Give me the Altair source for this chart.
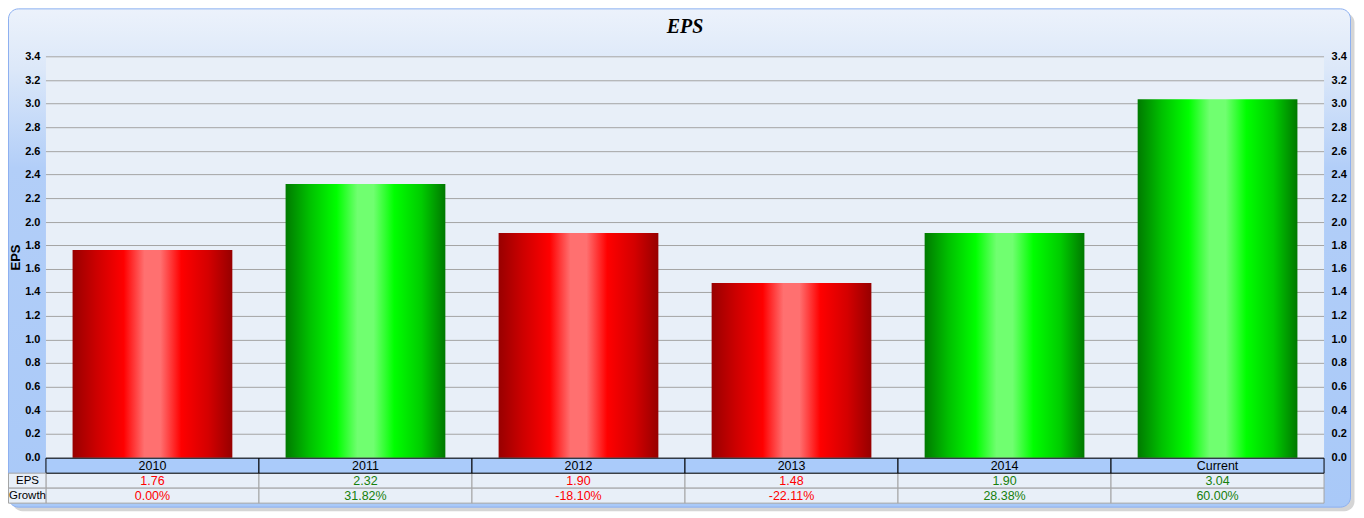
import altair as alt
import pandas as pd

# ---- data ----
categories = ["2010", "2011", "2012", "2013", "2014", "Current"]
eps = [1.76, 2.32, 1.90, 1.48, 1.90, 3.04]
growth = [0.00, 31.82, -18.10, -22.11, 28.38, 60.00]
y_ticks = [0.0, 0.2, 0.4, 0.6, 0.8, 1.0, 1.2, 1.4, 1.6, 1.8, 2.0, 2.2, 2.4,
           2.6, 2.8, 3.0, 3.2, 3.4]
row_labels = ["EPS", "Growth"]

# ---- layout ----
W, H = 1280, 402
PAD = {"left": 38, "top": 48, "right": 32, "bottom": 56}
FRAME_X0, FRAME_X1 = -37.5, 1306.5
FRAME_Y0, FRAME_Y1 = -47.5, 451.5
ROWS = {"head": (402.5, 417.5), "EPS": (417.5, 432.5), "Growth": (432.5, 447.5)}

df = pd.DataFrame({"cat": categories, "eps": eps, "growth": growth,
                   "idx": list(range(len(categories)))})
df["trend"] = ["up" if g > 0 else "down" for g in growth]
df["eps_txt"] = [f"{v:.2f}" for v in eps]
df["growth_txt"] = [f"{g:.2f}%" for g in growth]
ticks_df = pd.DataFrame({"v": y_ticks})
one = alt.Data(values=[{"a": 1}])

xs = alt.Scale(domain=[0, len(categories)], nice=False, zero=False)
ys = alt.Scale(domain=[0, 3.4], nice=False, round=True)
trend_color = alt.Scale(domain=["down", "up"], range=["#FF0000", "#16800C"])


def grad(stops, horizontal=True):
    return alt.LinearGradient(
        gradient="linear", x1=0, y1=0,
        x2=1 if horizontal else 0, y2=0 if horizontal else 1,
        stops=[alt.GradientStop(color=c, offset=o) for o, c in stops])


red_grad = grad([(0, "#980000"), (0.15, "#CC0000"), (0.32, "#FF0000"),
                 (0.45, "#FF7070"), (0.55, "#FF7070"), (0.68, "#FF0000"),
                 (0.85, "#D40000"), (1, "#960000")])
green_grad = grad([(0, "#007A00"), (0.15, "#00C000"), (0.32, "#00FF00"),
                   (0.45, "#70FF70"), (0.55, "#70FF70"), (0.68, "#00FF00"),
                   (0.85, "#00CC00"), (1, "#007800")])
frame_grad = grad([(0, "#ECF2FB"), (0.12, "#DCE8F9"), (0.32, "#B2CEF8"),
                   (1, "#A9C9F8")], horizontal=False)

# ---- frame ----
shadow = alt.Chart(one).mark_rect(fill="#888888", opacity=0.35, cornerRadius=10).encode(
    x=alt.value(FRAME_X0 + 4), x2=alt.value(FRAME_X1 + 4),
    y=alt.value(FRAME_Y0 + 4), y2=alt.value(FRAME_Y1 + 4))
frame = alt.Chart(one).mark_rect(fill=frame_grad, stroke="#8DB0F0", strokeWidth=1,
                                 cornerRadius=10).encode(
    x=alt.value(FRAME_X0), x2=alt.value(FRAME_X1),
    y=alt.value(FRAME_Y0), y2=alt.value(FRAME_Y1))
plot_bg = alt.Chart(one).mark_rect(fill="#E8EFF8").encode(
    x=alt.value(0), x2=alt.value(W), y=alt.value(0), y2=alt.value(H))

axis_common = dict(values=y_ticks, format=".1f", domain=False, ticks=False, grid=False,
                   labelFont="Liberation Sans", labelFontWeight="bold", labelFontSize=11,
                   labelColor="black", labelOverlap=False, zindex=1)

grid = alt.Chart(ticks_df).mark_rule(color="#A4A4A4", strokeWidth=1).encode(
    y=alt.Y("v:Q", scale=ys, axis=alt.Axis(
        orient="left", labelPadding=6, title="EPS", titleFont="Liberation Sans",
        titleFontSize=13, titleFontWeight="bold", titleColor="black",
        titleX=-30, titleY=H / 2, titleAngle=270, titleAlign="center",
        titleBaseline="middle", **axis_common)),
    x=alt.value(0), x2=alt.value(W), yOffset=alt.value(0.5))
grid_right = alt.Chart(ticks_df).mark_rule(opacity=0).encode(
    y=alt.Y("v:Q", scale=ys, axis=alt.Axis(orient="right", labelPadding=7, title=None,
                                           **axis_common)),
    x=alt.value(0), x2=alt.value(W))


def bars(trend, fill):
    return alt.Chart(df).transform_filter(alt.datum.trend == trend).transform_calculate(
        x0="datum.idx + 0.125", x1="datum.idx + 0.875").mark_rect(fill=fill).encode(
        x=alt.X("x0:Q", scale=xs, axis=None), x2="x1:Q",
        y=alt.Y("eps:Q", scale=ys, axis=None), y2=alt.datum(0))


# ---- table ----
def cells(row, fill, stroke):
    y0, y1 = ROWS[row]
    return alt.Chart(df).transform_calculate(x1="datum.idx + 1").mark_rect(
        fill=fill, stroke=stroke, strokeWidth=1).encode(
        x=alt.X("idx:Q", scale=xs, axis=None), x2="x1:Q",
        y=alt.value(y0), y2=alt.value(y1))


def cell_text(row, field, colored=True):
    y0, y1 = ROWS[row]
    enc = dict(x=alt.X("xc:Q", scale=xs, axis=None), y=alt.value((y0 + y1) / 2 + 0.5),
               text=alt.Text(f"{field}:N"))
    if colored:
        enc["color"] = alt.Color("trend:N", scale=trend_color, legend=None)
    return alt.Chart(df).transform_calculate(xc="datum.idx + 0.5").mark_text(
        font="Liberation Sans", fontSize=12.5, baseline="middle", align="center",
        color="black").encode(**enc)


label_layers = []
for r in row_labels:
    y0, y1 = ROWS[r]
    ldf = alt.Data(values=[{"label": r}])
    label_layers.append(alt.Chart(ldf).mark_rect(
        fill="#E8EFF8", stroke="#A4A4A4", strokeWidth=1).encode(
        x=alt.value(-37.5), x2=alt.value(0), y=alt.value(y0), y2=alt.value(y1)))
    label_layers.append(alt.Chart(ldf).mark_text(
        font="Liberation Sans", fontSize=11.5, baseline="middle", align="center",
        color="black").encode(
        x=alt.value(-18.5), y=alt.value((y0 + y1) / 2 + 0.5), text="label:N"))

title = alt.Chart(alt.Data(values=[{"t": "EPS"}])).mark_text(
    font="Liberation Serif", fontSize=20, fontStyle="italic", fontWeight="bold",
    color="black", align="center", baseline="alphabetic").encode(
    x=alt.value(W / 2), y=alt.value(-23), text="t:N")

chart = alt.layer(
    shadow, frame, plot_bg, grid, grid_right,
    bars("down", red_grad), bars("up", green_grad),
    cells("EPS", "#E8EFF8", "#A4A4A4"), cells("Growth", "#E8EFF8", "#A4A4A4"),
    cells("head", "#AACBFA", "#000000"),
    cell_text("head", "cat", colored=False),
    cell_text("EPS", "eps_txt"), cell_text("Growth", "growth_txt"),
    *label_layers, title,
).resolve_axis(y="independent").properties(
    width=W, height=H, padding=PAD,
    autosize=alt.AutoSizeParams(type="none"),
    background="white",
).configure_view(stroke=None)

chart.save("out.html", embed_options={"renderer": "svg", "actions": False})
